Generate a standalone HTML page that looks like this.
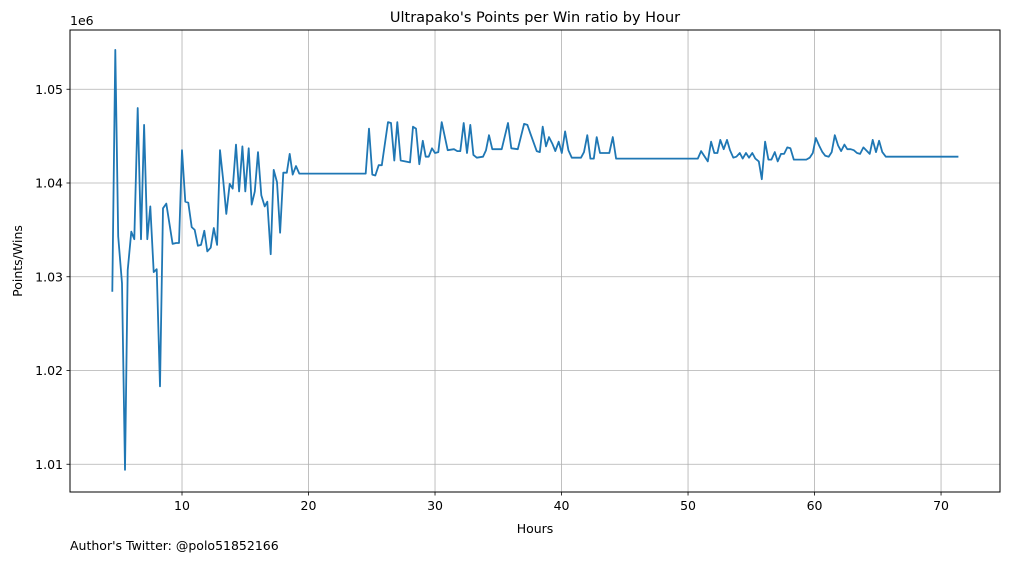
<!DOCTYPE html>
<html><head><meta charset="utf-8"><style>
body{margin:0;background:#fff;font-family:"Liberation Sans","DejaVu Sans",sans-serif}
svg text{font-family:"DejaVu Sans","Liberation Sans",sans-serif;fill:#000}
</style></head><body>
<svg id="chart" width="1010" height="562" xmlns="http://www.w3.org/2000/svg">
<text x="535" y="22" font-size="14.5" text-anchor="middle">Ultrapako's Points per Win ratio by Hour</text>
<text x="535" y="533" font-size="12.5" text-anchor="middle">Hours</text>
<text x="22" y="261" font-size="12.5" text-anchor="middle" transform="rotate(-90 22 261)">Points/Wins</text>
<text x="70" y="25" font-size="12.5">1e6</text>
<text x="70" y="550" font-size="12.5">Author's Twitter: @polo51852166</text>
<g id="grid"></g><g id="ticks"></g><g id="series"></g>
<rect x="70" y="30" width="930" height="462" fill="none" stroke="#000" stroke-width="1"/>
</svg>
<script>
const hours=[4.49,4.73,4.96,5.26,5.49,5.71,5.99,6.23,6.50,6.76,7.00,7.26,7.49,7.76,8.00,8.26,8.50,8.76,9.26,9.53,9.76,10.00,10.26,10.50,10.77,11.00,11.26,11.50,11.76,12.00,12.27,12.51,12.77,13.00,13.26,13.50,13.77,14.01,14.27,14.51,14.77,15.00,15.27,15.51,15.75,16.01,16.27,16.54,16.74,17.01,17.25,17.51,17.75,18.01,18.28,18.51,18.75,19.01,19.27,24.52,24.78,25.04,25.28,25.55,25.79,26.28,26.52,26.78,27.02,27.29,28.02,28.26,28.50,28.76,29.03,29.26,29.50,29.76,30.00,30.26,30.53,31.00,31.50,31.76,32.00,32.27,32.53,32.79,33.03,33.30,33.79,34.03,34.27,34.53,35.27,35.77,36.03,36.54,37.04,37.30,37.53,38.04,38.28,38.51,38.77,39.01,39.27,39.51,39.78,40.02,40.28,40.54,40.81,41.54,41.78,42.04,42.28,42.55,42.78,43.04,43.78,44.05,44.31,50.77,51.03,51.56,51.82,52.08,52.32,52.55,52.82,53.08,53.32,53.58,53.82,54.09,54.32,54.58,54.82,55.08,55.32,55.59,55.83,56.09,56.35,56.59,56.86,57.09,57.35,57.59,57.85,58.09,58.36,59.35,59.62,59.86,60.10,60.36,60.62,60.85,61.12,61.36,61.60,61.86,62.10,62.36,62.59,62.86,63.10,63.36,63.60,63.86,64.36,64.60,64.86,65.10,65.36,65.63,71.37];
const ratios=[1.0284,1.0542,1.0343,1.0293,1.0094,1.0307,1.0348,1.0340,1.0480,1.0340,1.0462,1.0340,1.0375,1.0305,1.0308,1.0183,1.0373,1.0378,1.0335,1.0336,1.0336,1.0435,1.0380,1.0379,1.0353,1.0350,1.0333,1.0334,1.0349,1.0327,1.0331,1.0352,1.0334,1.0435,1.0403,1.0367,1.0399,1.0394,1.0441,1.0391,1.0439,1.0391,1.0437,1.0377,1.0391,1.0433,1.0387,1.0375,1.0380,1.0324,1.0414,1.0401,1.0347,1.0411,1.0411,1.0431,1.0409,1.0418,1.0410,1.0410,1.0458,1.0409,1.0408,1.0419,1.0419,1.0465,1.0464,1.0424,1.0465,1.0424,1.0422,1.0460,1.0458,1.0420,1.0445,1.0428,1.0428,1.0437,1.0432,1.0433,1.0465,1.0435,1.0436,1.0434,1.0434,1.0464,1.0432,1.0462,1.0430,1.0427,1.0428,1.0435,1.0451,1.0436,1.0436,1.0464,1.0437,1.0436,1.0463,1.0462,1.0453,1.0434,1.0433,1.0460,1.0439,1.0449,1.0442,1.0434,1.0444,1.0432,1.0455,1.0435,1.0427,1.0427,1.0433,1.0451,1.0426,1.0426,1.0449,1.0432,1.0432,1.0449,1.0426,1.0426,1.0434,1.0423,1.0444,1.0432,1.0432,1.0446,1.0436,1.0446,1.0435,1.0427,1.0428,1.0432,1.0426,1.0432,1.0427,1.0432,1.0426,1.0423,1.0404,1.0444,1.0425,1.0425,1.0433,1.0423,1.0431,1.0431,1.0438,1.0437,1.0425,1.0425,1.0427,1.0432,1.0448,1.0440,1.0433,1.0429,1.0428,1.0433,1.0451,1.0440,1.0434,1.0441,1.0436,1.0436,1.0435,1.0432,1.0431,1.0438,1.0431,1.0446,1.0433,1.0445,1.0433,1.0428,1.0428];
const xTicks=[10,20,30,40,50,60,70];
const yTicks=[1.01,1.02,1.03,1.04,1.05];
const yTickLabels=["1.01","1.02","1.03","1.04","1.05"];
const NS="http://www.w3.org/2000/svg";
const L=70,R=1000,T=30,B=492,X0=1.146,X1=74.66,Y0=1.00704,Y1=1.05632;
function xs(v){return L+(v-X0)/(X1-X0)*(R-L);}
function ys(v){return B-(v-Y0)/(Y1-Y0)*(B-T);}
function mk(tag,a,p){const e=document.createElementNS(NS,tag);for(const k in a)e.setAttribute(k,a[k]);p.appendChild(e);return e;}
const grid=document.getElementById('grid'),ticks=document.getElementById('ticks'),series=document.getElementById('series');
xTicks.forEach(t=>{const x=xs(t);
 const g=mk('line',{x1:x,x2:x,y1:T,y2:B,stroke:'#b0b0b0','stroke-width':0.8},grid);
 
 
 mk('line',{x1:x,x2:x,y1:B,y2:B+3.5,stroke:'#000','stroke-width':0.8},ticks);
 const tx=mk('text',{x:x,y:B+18,'font-size':12.5,'text-anchor':'middle'},ticks);tx.textContent=t;
 
 });
yTicks.forEach((t,i)=>{const y=ys(t);
 const g=mk('line',{x1:L,x2:R,y1:y,y2:y,stroke:'#b0b0b0','stroke-width':0.8},grid);
 
 
 mk('line',{x1:L-3.5,x2:L,y1:y,y2:y,stroke:'#000','stroke-width':0.8},ticks);
 const tx=mk('text',{x:L-7,y:y+4.5,'font-size':12.5,'text-anchor':'end'},ticks);tx.textContent=yTickLabels[i];
 
 });
const d=hours.map((h,i)=>(i?'L':'M')+xs(h).toFixed(1)+','+ys(ratios[i]).toFixed(1)).join(' ');
const p=mk('path',{d:d,fill:'none',stroke:'#1f77b4','stroke-width':1.8,'stroke-linejoin':'round'},series);


</script>
</body></html>
